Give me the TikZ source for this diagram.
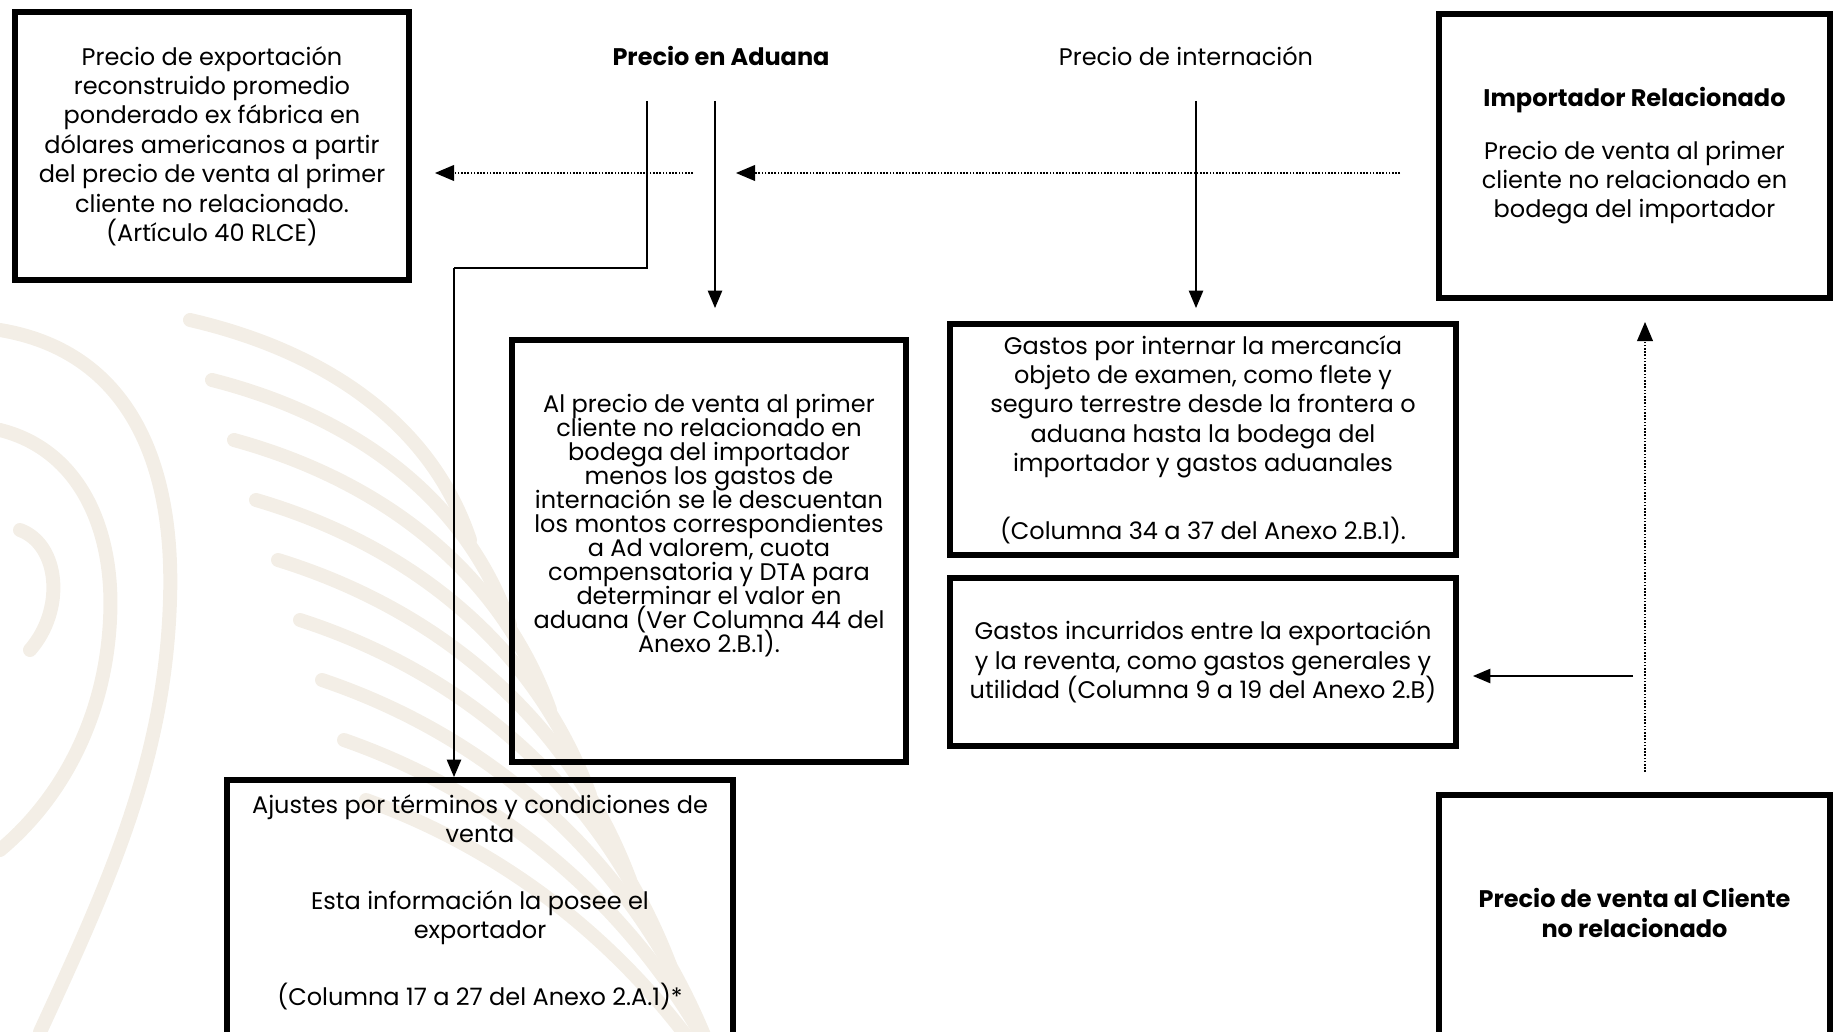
\documentclass[tikz,border=0pt]{standalone}
\usepackage{fontspec}
\setmainfont{Poppins}
\usetikzlibrary{arrows}
\usetikzlibrary{positioning, calc}
\definecolor{marca}{RGB}{243,238,230}
\newcommand{\apretado}{\fontsize{12}{12}\selectfont\setlength{\lineskiplimit}{-6pt}}

\begin{document}
\begin{tikzpicture}[x=0.5pt, y=-0.5pt,
    caja/.style={draw, line width=2.8pt, inner sep=0pt, align=center, font=\fontsize{12}{14.7}\selectfont},
    texto/.style={align=center, inner sep=0pt, font=\fontsize{12}{14.7}\selectfont},
    flecha/.style={line width=1pt, -triangle 45},
    punteada/.style={line width=1.2pt, dash pattern=on 0.8pt off 0.8pt, -triangle 45}]
      \useasboundingbox (0,0) rectangle (1835,1032);

      % marca de agua
      \begin{scope}[line width=7pt, line cap=round, draw=marca]
        \draw (0,330) .. controls (120,350) and (175,450) .. (170,600) .. controls (165,760) and (110,880) .. (40,1032);
        \draw (0,430) .. controls (80,450) and (115,530) .. (110,620) .. controls (105,720) and (60,800) .. (0,850);
        \draw (20,530) .. controls (60,545) and (65,610) .. (30,650);
        \foreach \i in {0,...,8}
          \draw (190+22*\i, 320+60*\i) .. controls (320+30*\i, 350+65*\i) and (430+35*\i, 420+75*\i) .. (470+40*\i, 540+85*\i);
      \end{scope}

      % cajas
      \node[caja, minimum width=197.2pt, minimum height=134.2pt] (expo) at (212,146)
        {Precio de exportación\\reconstruido promedio\\ponderado ex fábrica en\\dólares americanos a partir\\del precio de venta al primer\\cliente no relacionado.\\(Artículo 40 RLCE)};
      \node[caja, minimum width=195.7pt, minimum height=142.2pt] (importador) at (1634.5,156)
        {\textbf{Importador Relacionado}\\[11.5pt]Precio de venta al primer\\cliente no relacionado en\\bodega del importador};
      \node[caja, minimum width=197.2pt, minimum height=211.2pt] (precio) at (709,551) {};
      \node[caja, minimum width=253.2pt, minimum height=115.7pt] (internar) at (1203,439.5)
        {Gastos por internar la mercancía\\objeto de examen, como flete y\\seguro terrestre desde la frontera o\\aduana hasta la bodega del\\importador y gastos aduanales\\[19pt](Columna 34 a 37 del Anexo 2.B.1).};
      \node[caja, minimum width=253.2pt, minimum height=84.2pt] (incurridos) at (1203,662)
        {Gastos incurridos entre la exportación\\y la reventa, como gastos generales y\\utilidad (Columna 9 a 19 del Anexo 2.B)};
      \node[caja, minimum width=253.2pt, minimum height=158.7pt] (ajustes) at (480,938.5) {};
      \node[caja, minimum width=195.7pt, minimum height=151.2pt] (cliente) at (1634.5,946) {};

      % textos
      \node[texto, font=\apretado] (precioTxt) at (709,526)
        {Al precio de venta al primer\\cliente no relacionado en\\bodega del importador\\menos los gastos de\\internación se le descuentan\\los montos correspondientes\\a Ad valorem, cuota\\compensatoria y DTA para\\determinar el valor en\\aduana (Ver Columna 44 del\\Anexo 2.B.1).};
      \node[texto, below=8.5pt of ajustes.north] (ajustesTxt)
        {Ajustes por términos y condiciones de\\venta\\[18.7pt]Esta información la posee el\\exportador\\[18.7pt](Columna 17 a 27 del Anexo 2.A.1)*};
      \node[texto, font=\bfseries\fontsize{12}{14.7}\selectfont] (clienteTxt) at (1634.5,913)
        {Precio de venta al Cliente\\no relacionado};
      \node[texto, font=\bfseries\fontsize{12}{14.7}\selectfont] (aduana) at (721,56) {Precio en Aduana};
      \node[texto] (internacion) at (1186,56) {Precio de internación};

      % conectores
      \coordinate (a1) at (647,101);
      \coordinate (codo) at (454,268);
      \coordinate (a2) at (715,101);
      \coordinate (a3) at (1196,101);
      \coordinate (p1) at (1400,173);
      \coordinate (p2) at (736,173);
      \coordinate (p3) at (693,173);
      \coordinate (xv) at (1645,0);
      \coordinate (s1) at (1633,676);

      \draw[line width=1pt] (a1) |- (codo);
      \draw[flecha] (codo) -- (codo |- ajustes.north);
      \draw[flecha, shorten >=14.5pt] (a2) -- (a2 |- precio.north);
      \draw[flecha, shorten >=6.5pt] (a3) -- (a3 |- internar.north);
      \draw[punteada] (p1) -- (p2);
      \draw[punteada, shorten >=11.5pt] (p3) -- (p3 -| expo.east);
      \draw[punteada, shorten <=10pt, shorten >=10.5pt] (cliente.north -| xv) -- (importador.south -| xv);
      \draw[flecha, shorten >=7pt] (s1) -- (s1 -| incurridos.east);

    \end{tikzpicture}
\end{document}
